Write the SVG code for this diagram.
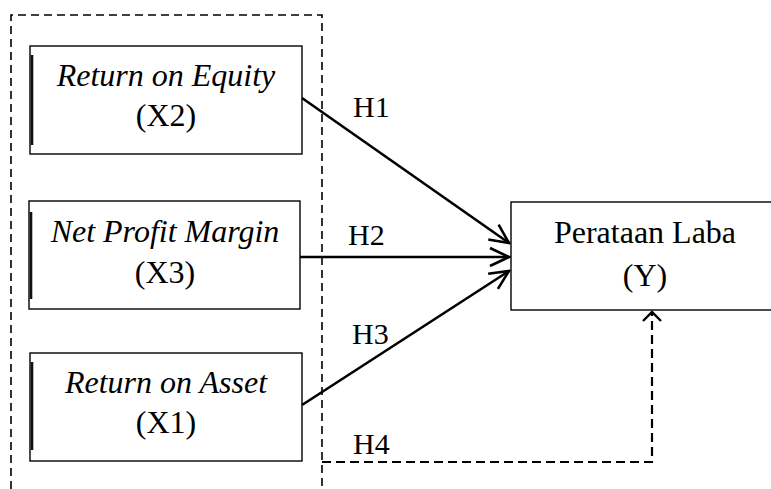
<svg xmlns="http://www.w3.org/2000/svg" width="771" height="489" viewBox="0 0 771 489">
  <style>
    text { font-family: "Liberation Serif", "Times New Roman", serif; font-size: 32px; fill: #000; }
    .it { font-style: italic; }
    .lbl { font-size: 30px; }
    .box { fill: #fff; stroke: #000; stroke-width: 1.4; }
    .bar { stroke: #111; stroke-width: 2.6; }
    .arrow { fill: none; stroke: #000; stroke-width: 2.6; }
    .dash { fill: none; stroke: #000; stroke-width: 1.6; stroke-dasharray: 8 5; }
    .dash2 { fill: none; stroke: #000; stroke-width: 2.2; stroke-dasharray: 9 5; }
  </style>
  <defs>
    <marker id="open" viewBox="-22 -12 24 24" refX="0" refY="0" markerWidth="24" markerHeight="24" markerUnits="userSpaceOnUse" orient="auto">
      <path d="M-19,-9 L0,0 L-19,9" fill="none" stroke="#000" stroke-width="2.6"/>
    </marker>
  </defs>

  <!-- grouping frame around the independent variables -->
  <path id="frame" class="dash" d="M11,489 V15 H322 V489"/>

  <g id="x2">
    <rect class="box" x="30" y="46" width="272" height="108"/>
    <line class="bar" x1="32" y1="55" x2="32" y2="145"/>
    <text class="it" x="166" y="86" text-anchor="middle">Return on Equity</text>
    <text x="166" y="126" text-anchor="middle">(X2)</text>
  </g>

  <g id="x3">
    <rect class="box" x="29" y="201" width="271" height="108"/>
    <line class="bar" x1="31" y1="212" x2="31" y2="299"/>
    <text class="it" x="165" y="242" text-anchor="middle">Net Profit Margin</text>
    <text x="165" y="283" text-anchor="middle">(X3)</text>
  </g>

  <g id="x1">
    <rect class="box" x="30" y="353" width="272" height="108"/>
    <line class="bar" x1="32" y1="362" x2="32" y2="450"/>
    <text class="it" x="166" y="393" text-anchor="middle">Return on Asset</text>
    <text x="166" y="433" text-anchor="middle">(X1)</text>
  </g>

  <g id="y">
    <rect class="box" x="511" y="202" width="269" height="108"/>
    <text x="645" y="243" text-anchor="middle">Perataan Laba</text>
    <text x="645" y="286" text-anchor="middle">(Y)</text>
  </g>

  <g id="connectors">
    <line class="arrow" x1="302" y1="98" x2="509" y2="243" marker-end="url(#open)"/>
    <line class="arrow" x1="300" y1="257" x2="509" y2="257" marker-end="url(#open)"/>
    <line class="arrow" x1="302" y1="405" x2="509" y2="271" marker-end="url(#open)"/>
    <path class="dash2" d="M322,462 H652 V312"/>
    <path d="M643,321 L652,312 L661,321" fill="none" stroke="#000" stroke-width="2.4"/>
    <text class="lbl" x="353" y="117">H1</text>
    <text class="lbl" x="348" y="245">H2</text>
    <text class="lbl" x="352" y="344">H3</text>
    <text class="lbl" x="353" y="454">H4</text>
  </g>
</svg>
